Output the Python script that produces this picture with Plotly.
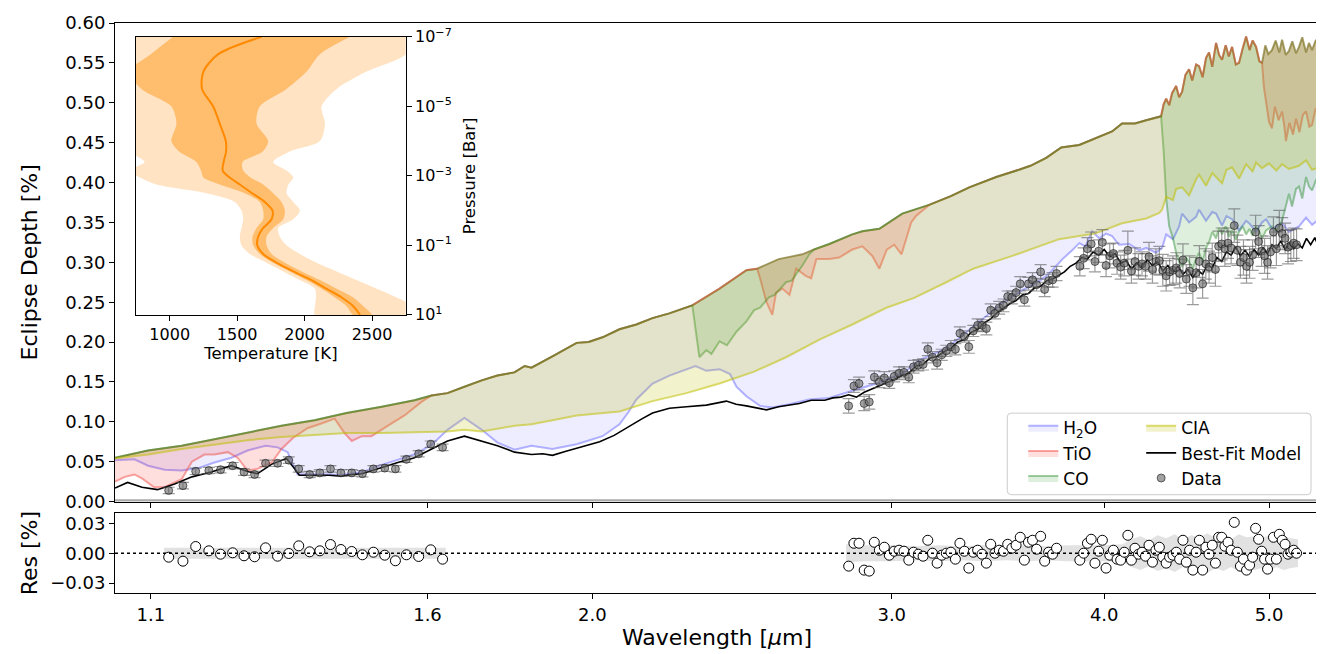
import plotly.graph_objects as go

# ---------------- model spectra (wavelength [um], eclipse depth [%]) ----------------
upper_wl = [1.048, 1.096, 1.147, 1.199, 1.254, 1.313, 1.373, 1.434, 1.504, 1.572, 1.609, 1.644, 1.682,
            1.722, 1.759, 1.800, 1.825, 1.842, 1.895, 1.958, 1.990, 2.028, 2.075, 2.123, 2.170, 2.220,
            2.290, 2.376, 2.464, 2.500, 2.574, 2.658, 2.700, 2.757, 2.844, 2.883, 2.950, 3.043, 3.156,
            3.250, 3.332, 3.456, 3.565, 3.620, 3.698, 3.774, 3.867, 3.950, 4.043, 4.098, 4.170, 4.234,
            4.320, 4.335, 4.350, 4.368, 4.385, 4.409, 4.427, 4.445, 4.465, 4.487, 4.506, 4.530, 4.548,
            4.570, 4.591, 4.610, 4.630, 4.654, 4.673, 4.692, 4.715, 4.735, 4.756, 4.780, 4.801, 4.825,
            4.847, 4.870, 4.890, 4.913, 4.935, 4.953, 4.975, 4.995, 5.020, 5.045, 5.070, 5.089, 5.115,
            5.137, 5.160, 5.186, 5.207, 5.230, 5.257, 5.278, 5.300, 5.328, 5.350]
upper_val = [0.055, 0.064, 0.070, 0.078, 0.086, 0.095, 0.102, 0.111, 0.119, 0.127, 0.133, 0.136, 0.144,
             0.152, 0.158, 0.162, 0.170, 0.168, 0.182, 0.199, 0.200, 0.206, 0.216, 0.222, 0.230, 0.236,
             0.246, 0.267, 0.290, 0.292, 0.304, 0.310, 0.316, 0.323, 0.335, 0.339, 0.342, 0.361, 0.372,
             0.383, 0.394, 0.407, 0.416, 0.421, 0.431, 0.444, 0.447, 0.455, 0.464, 0.474, 0.474, 0.478,
             0.483, 0.498, 0.505, 0.497, 0.512, 0.521, 0.507, 0.514, 0.535, 0.542, 0.528, 0.548, 0.546,
             0.532, 0.556, 0.563, 0.545, 0.575, 0.560, 0.554, 0.572, 0.558, 0.570, 0.548, 0.550, 0.568,
             0.583, 0.566, 0.578, 0.570, 0.552, 0.550, 0.572, 0.561, 0.566, 0.578, 0.563, 0.579, 0.560,
             0.565, 0.577, 0.562, 0.570, 0.582, 0.563, 0.575, 0.566, 0.579, 0.570]

h2o_wl = [1.048, 1.076, 1.096, 1.121, 1.147, 1.173, 1.199, 1.227, 1.254, 1.285, 1.306, 1.324, 1.331,
          1.342, 1.373, 1.400, 1.424, 1.464, 1.504, 1.537, 1.572, 1.609, 1.644, 1.682, 1.722, 1.759,
          1.800, 1.842, 1.895, 1.958, 2.028, 2.075, 2.100, 2.123, 2.170, 2.220, 2.272, 2.300, 2.334,
          2.376, 2.410, 2.431, 2.464, 2.510, 2.552, 2.612, 2.683, 2.757, 2.844, 2.950, 3.043, 3.120,
          3.230, 3.310, 3.400, 3.490, 3.580, 3.650, 3.710, 3.780, 3.830, 3.867, 3.900, 3.935, 3.973,
          4.010, 4.043, 4.080, 4.137, 4.194, 4.234, 4.290, 4.326, 4.350, 4.390, 4.427, 4.445, 4.487,
          4.530, 4.548, 4.591, 4.630, 4.654, 4.692, 4.720, 4.756, 4.801, 4.847, 4.867, 4.913, 4.953,
          4.980, 5.020, 5.089, 5.137, 5.207, 5.257, 5.300, 5.350]
h2o_val = [0.052, 0.053, 0.045, 0.040, 0.039, 0.042, 0.049, 0.055, 0.064, 0.070, 0.068, 0.062, 0.050,
           0.034, 0.034, 0.034, 0.033, 0.037, 0.046, 0.052, 0.059, 0.071, 0.090, 0.105, 0.090, 0.074,
           0.065, 0.070, 0.066, 0.072, 0.082, 0.097, 0.112, 0.128, 0.148, 0.158, 0.166, 0.170, 0.164,
           0.166, 0.160, 0.144, 0.132, 0.120, 0.118, 0.122, 0.128, 0.130, 0.139, 0.149, 0.160, 0.178,
           0.192, 0.210, 0.230, 0.250, 0.265, 0.274, 0.285, 0.304, 0.315, 0.324, 0.320, 0.339, 0.330,
           0.336, 0.333, 0.322, 0.323, 0.315, 0.318, 0.312, 0.318, 0.335, 0.329, 0.345, 0.361, 0.350,
           0.357, 0.366, 0.352, 0.363, 0.361, 0.346, 0.358, 0.354, 0.340, 0.352, 0.349, 0.338, 0.350,
           0.354, 0.342, 0.349, 0.338, 0.345, 0.356, 0.347, 0.354]

cia_wl = [1.048, 1.096, 1.147, 1.199, 1.254, 1.313, 1.373, 1.434, 1.504, 1.572, 1.644, 1.682, 1.722,
          1.800, 1.842, 1.895, 1.958, 2.075, 2.170, 2.272, 2.376, 2.490, 2.600, 2.720, 2.844, 2.978,
          3.090, 3.230, 3.350, 3.532, 3.763, 3.950, 4.098, 4.234, 4.310, 4.326, 4.350, 4.390, 4.409,
          4.445, 4.487, 4.530, 4.548, 4.591, 4.630, 4.654, 4.692, 4.720, 4.756, 4.801, 4.847, 4.890,
          4.913, 4.953, 5.000, 5.050, 5.089, 5.137, 5.207, 5.257, 5.300, 5.350]
cia_val = [0.054, 0.059, 0.066, 0.071, 0.077, 0.081, 0.084, 0.086, 0.086, 0.087, 0.088, 0.090, 0.088,
           0.095, 0.097, 0.102, 0.108, 0.113, 0.126, 0.136, 0.148, 0.163, 0.181, 0.203, 0.222, 0.243,
           0.255, 0.275, 0.292, 0.308, 0.329, 0.336, 0.349, 0.355, 0.362, 0.366, 0.382, 0.378, 0.392,
           0.394, 0.384, 0.404, 0.410, 0.396, 0.412, 0.407, 0.399, 0.416, 0.419, 0.405, 0.423, 0.414,
           0.425, 0.418, 0.424, 0.415, 0.423, 0.417, 0.421, 0.428, 0.416, 0.419]

# TiO and CO follow the upper envelope except in these segments
tio_seg1_wl = [1.048, 1.062, 1.076, 1.087, 1.105, 1.121, 1.147, 1.163, 1.183, 1.199, 1.221, 1.237, 1.254,
               1.271, 1.296, 1.313, 1.334, 1.360, 1.386, 1.411, 1.430, 1.444, 1.464, 1.483, 1.516, 1.551,
               1.587]
tio_seg1_val = [0.025, 0.031, 0.034, 0.029, 0.018, 0.018, 0.028, 0.050, 0.059, 0.059, 0.062, 0.055, 0.039,
                0.041, 0.049, 0.066, 0.080, 0.092, 0.098, 0.104, 0.086, 0.076, 0.082, 0.082, 0.095, 0.108,
                0.125]
tio_seg2_wl = [2.510, 2.532, 2.552, 2.565, 2.587, 2.612, 2.636, 2.670, 2.690, 2.709, 2.757, 2.794, 2.844,
               2.883, 2.922, 2.950, 2.980, 3.010, 3.040, 3.060, 3.080, 3.100]
tio_seg2_val = [0.280, 0.250, 0.234, 0.262, 0.267, 0.259, 0.292, 0.283, 0.280, 0.304, 0.304, 0.306, 0.316,
                0.320, 0.308, 0.292, 0.316, 0.322, 0.310, 0.330, 0.350, 0.358]
tio_seg3_wl = [4.965, 4.980, 5.000, 5.020, 5.040, 5.065, 5.089, 5.105, 5.116, 5.140, 5.165, 5.186, 5.210,
               5.235, 5.257, 5.280, 5.300, 5.325, 5.350]
tio_seg3_val = [0.520, 0.501, 0.476, 0.468, 0.495, 0.478, 0.489, 0.470, 0.452, 0.475, 0.460, 0.480, 0.463,
                0.485, 0.489, 0.470, 0.472, 0.492, 0.493]

co_seg1_wl = [2.312, 2.334, 2.350, 2.376, 2.400, 2.431, 2.450, 2.464, 2.490, 2.510, 2.540, 2.560, 2.600,
              2.620, 2.658, 2.683]
co_seg1_val = [0.181, 0.190, 0.185, 0.201, 0.196, 0.213, 0.220, 0.226, 0.240, 0.243, 0.256, 0.259, 0.275,
               0.277, 0.296, 0.310]
co_seg2_wl = [4.335, 4.350, 4.368, 4.390, 4.409, 4.427, 4.445, 4.470, 4.487, 4.510, 4.530, 4.548, 4.570,
              4.591, 4.610, 4.630, 4.654, 4.673, 4.692, 4.715, 4.735, 4.756, 4.780, 4.801, 4.825, 4.847,
              4.870, 4.890, 4.913, 4.935, 4.953, 4.980, 5.020, 5.050, 5.089, 5.115, 5.137, 5.158, 5.186,
              5.207, 5.230, 5.257, 5.278, 5.300, 5.328, 5.350]
co_seg2_val = [0.440, 0.380, 0.345, 0.330, 0.312, 0.300, 0.295, 0.305, 0.300, 0.292, 0.305, 0.312, 0.300,
               0.318, 0.325, 0.338, 0.330, 0.343, 0.335, 0.345, 0.332, 0.340, 0.328, 0.338, 0.345, 0.335,
               0.342, 0.333, 0.345, 0.338, 0.330, 0.340, 0.345, 0.338, 0.352, 0.372, 0.386, 0.370, 0.392,
               0.395, 0.380, 0.407, 0.395, 0.390, 0.403, 0.410]

bestfit_wl = [1.048, 1.066, 1.087, 1.110, 1.136, 1.163, 1.194, 1.227, 1.253, 1.271, 1.296, 1.322, 1.338,
              1.345, 1.373, 1.400, 1.424, 1.444, 1.464, 1.504, 1.537, 1.572, 1.609, 1.644, 1.682, 1.722,
              1.759, 1.800, 1.842, 1.870, 1.895, 1.930, 1.970, 2.020, 2.060, 2.100, 2.140, 2.170, 2.220,
              2.272, 2.334, 2.398, 2.430, 2.464, 2.500, 2.532, 2.574, 2.610, 2.647, 2.690, 2.740, 2.770,
              2.80, 2.83, 2.86, 2.89, 2.92, 2.95, 2.98, 3.01, 3.04, 3.07, 3.10, 3.13, 3.16, 3.19, 3.22,
              3.25, 3.28, 3.31, 3.34, 3.37, 3.40, 3.43, 3.46, 3.49, 3.52, 3.55, 3.58, 3.61, 3.64, 3.67,
              3.70, 3.73, 3.76, 3.79, 3.82, 3.85, 3.88, 3.91, 3.94, 3.97, 4.00, 4.03, 4.06, 4.09, 4.12,
              4.15, 4.18, 4.21, 4.24, 4.27, 4.30, 4.33, 4.36, 4.39, 4.42, 4.45, 4.48, 4.51, 4.54, 4.57,
              4.60, 4.63, 4.66, 4.69, 4.72, 4.75, 4.78, 4.81, 4.84, 4.87, 4.90, 4.93, 4.96, 4.99, 5.02,
              5.05, 5.08, 5.11, 5.14, 5.17, 5.20, 5.23, 5.26, 5.29, 5.32, 5.35]
bestfit_val = [0.017, 0.024, 0.018, 0.015, 0.022, 0.031, 0.037, 0.045, 0.038, 0.035, 0.047, 0.054, 0.040,
               0.033, 0.033, 0.033, 0.032, 0.034, 0.035, 0.043, 0.049, 0.055, 0.066, 0.076, 0.082, 0.076,
               0.070, 0.062, 0.059, 0.060, 0.058, 0.063, 0.068, 0.075, 0.083, 0.094, 0.104, 0.111, 0.117,
               0.119, 0.121, 0.126, 0.122, 0.120, 0.117, 0.115, 0.119, 0.121, 0.123, 0.127, 0.127, 0.130,
               0.131, 0.134, 0.131, 0.137, 0.141, 0.145, 0.149, 0.153, 0.158, 0.161, 0.170, 0.172, 0.180,
               0.182, 0.188, 0.192, 0.200, 0.203, 0.212, 0.216, 0.224, 0.229, 0.237, 0.243, 0.248, 0.252,
               0.259, 0.261, 0.268, 0.270, 0.277, 0.279, 0.284, 0.288, 0.295, 0.299, 0.306, 0.304, 0.313,
               0.309, 0.316, 0.307, 0.311, 0.299, 0.302, 0.292, 0.299, 0.294, 0.303, 0.296, 0.301, 0.289,
               0.296, 0.287, 0.295, 0.285, 0.291, 0.281, 0.290, 0.285, 0.297, 0.293, 0.306, 0.301, 0.313,
               0.309, 0.319, 0.308, 0.315, 0.307, 0.316, 0.309, 0.318, 0.311, 0.322, 0.317, 0.327, 0.316,
               0.324, 0.317, 0.323, 0.318, 0.330, 0.322, 0.331, 0.318]

baseline_wl = [1.048, 5.350]
baseline_val = [0.0015, 0.0015]

# ---------------- observations ----------------
g141_wl = [1.127, 1.149, 1.169, 1.190, 1.209, 1.229, 1.248, 1.266, 1.285, 1.306, 1.326, 1.344, 1.364,
           1.383, 1.403, 1.423, 1.444, 1.465, 1.487, 1.510, 1.532, 1.555, 1.581, 1.607, 1.633]
g141_depth = [0.014, 0.020, 0.038, 0.039, 0.040, 0.045, 0.037, 0.034, 0.048, 0.048, 0.052, 0.041, 0.034,
              0.036, 0.041, 0.036, 0.036, 0.035, 0.041, 0.042, 0.041, 0.053, 0.060, 0.072, 0.068]
g141_err = [0.004, 0.004, 0.004, 0.004, 0.004, 0.004, 0.004, 0.004, 0.004, 0.004, 0.004, 0.004, 0.004,
            0.004, 0.004, 0.004, 0.004, 0.004, 0.004, 0.004, 0.004, 0.004, 0.004, 0.004, 0.004]
g141_res = [-0.004, -0.008, 0.0067, 0.0024, -0.001, 0.0004, -0.0026, -0.0036, 0.0054, -0.003, -0.0003,
            0.0074, 0.0014, 0.0024, 0.0087, 0.0037, 0.0017, -0.0016, 0.001, -0.002, -0.0076, -0.0016,
            -0.0033, 0.0034, -0.006]

nrs_wl = [2.83, 2.85, 2.87, 2.89, 2.91, 2.93, 2.95, 2.97, 2.99, 3.01, 3.03, 3.05, 3.07, 3.09, 3.11, 3.13,
          3.15, 3.17, 3.19, 3.21, 3.23, 3.25, 3.27, 3.29, 3.31, 3.33, 3.35, 3.37, 3.39, 3.41, 3.43, 3.45,
          3.47, 3.49, 3.51, 3.53, 3.55, 3.57, 3.59, 3.61, 3.63, 3.65, 3.67, 3.69, 3.71, 3.73, 3.75,
          3.87, 3.89, 3.91, 3.93, 3.95, 3.97, 3.99, 4.01, 4.03, 4.05, 4.07, 4.09, 4.11, 4.13, 4.15, 4.17,
          4.19, 4.21, 4.23, 4.25, 4.27, 4.29, 4.31, 4.33, 4.35, 4.37, 4.39, 4.41, 4.43, 4.45, 4.47, 4.49,
          4.51, 4.53, 4.55, 4.57, 4.59, 4.61, 4.63, 4.65, 4.67, 4.69, 4.71, 4.73, 4.75, 4.77, 4.79, 4.81,
          4.83, 4.85, 4.87, 4.89, 4.91, 4.93, 4.95, 4.97, 4.99, 5.01, 5.03, 5.05, 5.07, 5.09, 5.11, 5.13,
          5.15, 5.17, 5.19]
nrs_depth = [0.120, 0.145, 0.148, 0.123, 0.125, 0.156, 0.150, 0.155, 0.149, 0.157,
             0.161, 0.162, 0.156, 0.169, 0.171, 0.172, 0.191, 0.181, 0.174, 0.184,
             0.189, 0.194, 0.191, 0.211, 0.207, 0.194, 0.214, 0.221, 0.221, 0.217,
             0.240, 0.236, 0.243, 0.246, 0.257, 0.256, 0.262, 0.273, 0.253, 0.273,
             0.278, 0.272, 0.288, 0.266, 0.277, 0.278, 0.286,
             0.295, 0.305, 0.317, 0.323, 0.301, 0.314, 0.325, 0.296, 0.308, 0.311,
             0.299, 0.294, 0.299, 0.315, 0.289, 0.301, 0.295, 0.298, 0.295, 0.307,
             0.291, 0.301, 0.302, 0.290, 0.283, 0.288, 0.290, 0.293, 0.286, 0.303,
             0.279, 0.289, 0.268, 0.287, 0.301, 0.273, 0.298, 0.294, 0.306, 0.291,
             0.320, 0.323, 0.317, 0.324, 0.318, 0.346, 0.315, 0.300, 0.306, 0.295,
             0.300, 0.309, 0.338, 0.326, 0.314, 0.308, 0.300, 0.313, 0.338, 0.317,
             0.343, 0.336, 0.330, 0.319, 0.321, 0.324, 0.322]
nrs_err = [0.009, 0.008, 0.008, 0.009, 0.009, 0.008, 0.007, 0.008, 0.007, 0.007,
           0.008, 0.007, 0.007, 0.008, 0.007, 0.007, 0.008, 0.007, 0.008, 0.007,
           0.007, 0.008, 0.007, 0.008, 0.007, 0.008, 0.007, 0.008, 0.007, 0.008,
           0.008, 0.007, 0.008, 0.008, 0.007, 0.008, 0.008, 0.009, 0.008, 0.008,
           0.009, 0.008, 0.009, 0.009, 0.008, 0.009, 0.009,
           0.012, 0.013, 0.014, 0.015, 0.013, 0.014, 0.016, 0.014, 0.015, 0.013,
           0.014, 0.015, 0.016, 0.024, 0.015, 0.017, 0.016, 0.015, 0.016, 0.018,
           0.017, 0.016, 0.018, 0.020, 0.019, 0.017, 0.018, 0.019, 0.018, 0.020,
           0.018, 0.019, 0.021, 0.019, 0.020, 0.018, 0.019, 0.020, 0.018, 0.021,
           0.019, 0.020, 0.022, 0.019, 0.020, 0.021, 0.019, 0.020, 0.022, 0.021,
           0.020, 0.019, 0.021, 0.020, 0.019, 0.022, 0.021, 0.020, 0.019, 0.021,
           0.022, 0.020, 0.019, 0.021, 0.020, 0.019, 0.020]
nrs_res = [-0.013, 0.010, 0.010, -0.017, -0.018, 0.011, 0.003, 0.006, -0.002, 0.002,
           0.003, 0.002, -0.007, 0.001, -0.001, -0.003, 0.013, 0.000, -0.010, -0.002,
           0.000, 0.001, -0.006, 0.010, 0.002, -0.015, 0.001, 0.003, -0.001, -0.010,
           0.009, 0.000, 0.003, 0.002, 0.009, 0.005, 0.008, 0.016, -0.007, 0.011,
           0.013, 0.004, 0.017, -0.008, 0.001, -0.001, 0.005,
           -0.007, 0.000, 0.010, 0.014, -0.010, 0.002, 0.013, -0.015, -0.002, 0.003,
           -0.006, -0.007, 0.001, 0.018, -0.007, 0.005, -0.001, 0.001, -0.003, 0.008,
           -0.009, 0.003, 0.006, -0.004, -0.010, -0.004, -0.002, 0.001, -0.006, 0.013,
           -0.009, 0.003, -0.017, 0.001, 0.013, -0.017, 0.006, -0.001, 0.008, -0.010,
           0.016, 0.016, 0.007, 0.011, 0.003, 0.031, 0.001, -0.013, -0.006, -0.017,
           -0.012, -0.004, 0.025, 0.014, 0.002, -0.006, -0.016, -0.006, 0.016, -0.006,
           0.019, 0.013, 0.009, -0.001, 0.001, 0.003, 0.000]

band_g141_wl = [1.120, 1.250, 1.400, 1.640]
band_g141_hw = [0.0055, 0.0055, 0.0055, 0.0055]
band_nrs_wl = [2.82, 2.90, 3.00, 3.10, 3.20, 3.30, 3.40, 3.50, 3.60, 3.70, 3.80, 3.90, 4.00, 4.10, 4.15,
               4.20, 4.25, 4.30, 4.35, 4.40, 4.45, 4.50, 4.55, 4.60, 4.65, 4.70, 4.75, 4.80, 4.85, 4.90,
               4.95, 5.00, 5.05, 5.10, 5.15, 5.20]
band_nrs_hw = [0.009, 0.008, 0.008, 0.007, 0.008, 0.007, 0.008, 0.007, 0.008, 0.007, 0.008, 0.008, 0.008,
               0.009, 0.014, 0.017, 0.013, 0.018, 0.015, 0.019, 0.014, 0.018, 0.016, 0.020, 0.015, 0.018,
               0.014, 0.019, 0.016, 0.017, 0.015, 0.018, 0.014, 0.017, 0.015, 0.014]

# ---------------- temperature-pressure profile ----------------
tp_logp = [-7, -6.5, -6, -5.5, -5, -4.5, -4, -3.7, -3.4, -3.15, -2.95, -2.75, -2.5, -2.25, -2, -1.75,
           -1.5, -1.25, -1, -0.75, -0.5, -0.25, 0, 0.25, 0.5, 0.75, 1]
tp_median = [1681, 1360, 1250, 1240, 1322, 1371, 1416, 1418, 1400, 1393, 1445, 1520, 1611, 1705, 1762,
             1755, 1693, 1656, 1649, 1693, 1792, 1916, 2052, 2163, 2275, 2361, 2411]
tp_1s_lo = [1025, 860, 700, 790, 1012, 1050, 1012, 1070, 1198, 1232, 1250, 1371, 1557, 1668, 1693, 1693,
            1644, 1614, 1619, 1668, 1767, 1891, 2015, 2126, 2225, 2312, 2361]
tp_1s_hi = [2337, 2114, 2015, 1866, 1668, 1644, 1730, 1690, 1540, 1545, 1600, 1693, 1767, 1829, 1854,
            1842, 1767, 1718, 1718, 1755, 1854, 1978, 2114, 2238, 2361, 2436, 2498]
tp_2s_lo = [700, 700, 700, 700, 700, 700, 700, 700, 814, 700, 780, 901, 1272, 1483, 1532, 1545, 1532,
            1520, 1532, 1594, 1718, 1842, 1965, 2077, 2084, 2077, 2077]
tp_2s_hi = [2800, 2750, 2460, 2238, 2126, 2151, 2114, 1891, 1767, 1866, 1916, 1880, 1866, 1916, 1965,
            1916, 1804, 1817, 1866, 1965, 2089, 2238, 2386, 2535, 2683, 2800, 2800]


def splice(base_wl, base_val, segments):
    pts = []
    for w, v in zip(base_wl, base_val):
        if not any(min(sw) <= w <= max(sw) for sw, _ in segments):
            pts.append((w, v))
    for sw, sv in segments:
        pts.extend(zip(sw, sv))
    pts.sort()
    return [p[0] for p in pts], [p[1] for p in pts]


tio_wl, tio_val = splice(upper_wl, upper_val, [(tio_seg1_wl, tio_seg1_val), (tio_seg2_wl, tio_seg2_val),
                                               (tio_seg3_wl, tio_seg3_val)])
co_wl, co_val = splice(upper_wl, upper_val, [(co_seg1_wl, co_seg1_val), (co_seg2_wl, co_seg2_val)])

FONT = "DejaVu Sans"
fig = go.Figure()

# upper envelope line
fig.add_trace(go.Scatter(x=upper_wl, y=upper_val, mode="lines", xaxis="x", yaxis="y",
                         line=dict(color="rgba(135,128,60,0.75)", width=2), showlegend=False, hoverinfo="skip"))

species = [
    ("H<sub>2</sub>O", h2o_wl, h2o_val, "rgba(60,60,255,0.38)", "rgba(0,0,255,0.07)", "legend"),
    ("TiO", tio_wl, tio_val, "rgba(240,60,50,0.45)", "rgba(255,0,0,0.13)", "legend"),
    ("CO", co_wl, co_val, "rgba(20,130,20,0.40)", "rgba(0,128,0,0.13)", "legend"),
    ("CIA", cia_wl, cia_val, "rgba(191,191,0,0.55)", "rgba(191,191,0,0.20)", "legend2"),
]
for name, wl, val, lc, fc, lg in species:
    fig.add_trace(go.Scatter(x=upper_wl, y=upper_val, mode="lines", xaxis="x", yaxis="y",
                             line=dict(width=0, color="rgba(0,0,0,0)"), showlegend=False, hoverinfo="skip"))
    fig.add_trace(go.Scatter(x=wl, y=val, mode="lines", xaxis="x", yaxis="y", fill="tonexty",
                             fillcolor=fc, line=dict(color=lc, width=2), name=name, legend=lg))

fig.add_trace(go.Scatter(x=baseline_wl, y=baseline_val, mode="lines", xaxis="x", yaxis="y",
                         line=dict(color="rgba(150,150,150,0.8)", width=2.5), showlegend=False, hoverinfo="skip"))

fig.add_trace(go.Scatter(x=bestfit_wl, y=bestfit_val, mode="lines", xaxis="x", yaxis="y",
                         line=dict(color="black", width=1.6), name="Best-Fit Model", legend="legend2"))

data_marker = dict(size=8, color="rgba(100,100,100,0.6)", line=dict(color="rgba(20,20,20,0.6)", width=1))
err_style = dict(type="data", color="rgba(90,90,90,0.6)", thickness=1.2, width=6)
fig.add_trace(go.Scatter(x=g141_wl, y=g141_depth, mode="markers", xaxis="x", yaxis="y",
                         marker=data_marker, error_y=dict(array=g141_err, **err_style),
                         name="Data", legend="legend2"))
fig.add_trace(go.Scatter(x=nrs_wl, y=nrs_depth, mode="markers", xaxis="x", yaxis="y",
                         marker=data_marker, error_y=dict(array=nrs_err, **err_style),
                         name="Data", showlegend=False))

# residual panel
for bwl, bhw in [(band_g141_wl, band_g141_hw), (band_nrs_wl, band_nrs_hw)]:
    fig.add_trace(go.Scatter(x=bwl + bwl[::-1], y=[h for h in bhw] + [-h for h in bhw[::-1]],
                             mode="lines", fill="toself", fillcolor="rgba(190,190,190,0.45)",
                             line=dict(width=0), xaxis="x2", yaxis="y2", showlegend=False, hoverinfo="skip"))
res_marker = dict(size=10, color="white", line=dict(color="black", width=1))
fig.add_trace(go.Scatter(x=g141_wl, y=g141_res, mode="markers", marker=res_marker,
                         xaxis="x2", yaxis="y2", showlegend=False))
fig.add_trace(go.Scatter(x=nrs_wl, y=nrs_res, mode="markers", marker=res_marker,
                         xaxis="x2", yaxis="y2", showlegend=False))

# inset: T-P profile
tp_p = [10 ** lp for lp in tp_logp]
fig.add_trace(go.Scatter(x=tp_2s_lo + tp_2s_hi[::-1], y=tp_p + tp_p[::-1], mode="lines", fill="toself",
                         fillcolor="rgba(255,140,0,0.24)", line=dict(width=0, shape="spline", smoothing=0.8),
                         xaxis="x3", yaxis="y3", showlegend=False, hoverinfo="skip"))
fig.add_trace(go.Scatter(x=tp_1s_lo + tp_1s_hi[::-1], y=tp_p + tp_p[::-1], mode="lines", fill="toself",
                         fillcolor="rgba(255,140,0,0.43)", line=dict(width=0, shape="spline", smoothing=0.8),
                         xaxis="x3", yaxis="y3", showlegend=False, hoverinfo="skip"))
fig.add_trace(go.Scatter(x=tp_median, y=tp_p, mode="lines",
                         line=dict(color="#ff8a00", width=2, shape="spline", smoothing=0.8),
                         xaxis="x3", yaxis="y3", showlegend=False))

axis_common = dict(showline=True, linecolor="black", linewidth=1, mirror=True, ticks="outside", ticklen=5,
                   tickwidth=1, tickcolor="black", showgrid=False, zeroline=False,
                   tickfont=dict(size=18, color="black", family=FONT))
wl_ticks = [1.1, 1.6, 2.0, 3.0, 4.0, 5.0]
wl_range = [0.020361, 0.728354]

# the page body has an 8 px margin, so the figure is 8 px smaller and the margins compensate
fig.update_layout(
    width=1316, height=646,
    margin=dict(l=107, r=4, t=5, b=61),
    paper_bgcolor="white", plot_bgcolor="white",
    font=dict(family=FONT, color="black"),
    xaxis=dict(axis_common, type="log", range=wl_range, domain=[0, 1], anchor="y",
               tickvals=wl_ticks, showticklabels=False),
    yaxis=dict(axis_common, range=[0, 0.6], domain=[0.16034, 1], anchor="x", dtick=0.05, tick0=0,
               tickformat=".2f", title=dict(text="Eclipse Depth [%]", font=dict(size=22), standoff=21)),
    xaxis2=dict(axis_common, type="log", range=wl_range, domain=[0, 1], anchor="y2",
                tickvals=wl_ticks, ticktext=["1.1", "1.6", "2.0", "3.0", "4.0", "5.0"],
                title=dict(text="Wavelength [<i>μ</i>m]", font=dict(size=22), standoff=6)),
    yaxis2=dict(axis_common, range=[-0.04, 0.04], domain=[0, 0.13966], anchor="x2",
                tickvals=[-0.03, 0, 0.03], ticktext=["\u22120.03", "0.00", "0.03"],
                title=dict(text="Res [%]", font=dict(size=22), standoff=6)),
    xaxis3=dict(axis_common, range=[750, 2750], domain=[0.017427, 0.24149], anchor="y3",
                tickvals=[1000, 1500, 2000, 2500], tickfont=dict(size=16, color="black", family=FONT),
                title=dict(text="Temperature [K]", font=dict(size=16.5), standoff=4)),
    yaxis3=dict(axis_common, type="log", range=[1, -7], domain=[0.48793, 0.97586], anchor="x3",
                side="right", tickvals=[1e-7, 1e-5, 1e-3, 1e-1, 10],
                ticktext=["10<sup>\u22127</sup>", "10<sup>\u22125</sup>", "10<sup>\u22123</sup>",
                          "10<sup>\u22121</sup>", "10<sup>1</sup>"],
                tickfont=dict(size=16, color="black", family=FONT),
                title=dict(text="Pressure [Bar]", font=dict(size=16.5), standoff=12)),
    legend=dict(x=0.7544, y=0.3206, xanchor="left", yanchor="top", bgcolor="rgba(0,0,0,0)",
                font=dict(size=17, family=FONT), tracegroupgap=0, traceorder="normal"),
    legend2=dict(x=0.8523, y=0.3206, xanchor="left", yanchor="top", bgcolor="rgba(0,0,0,0)",
                 font=dict(size=17, family=FONT), tracegroupgap=0, traceorder="normal"),
)

# legend frame (rounded) and dotted zero line for residuals
x0, x1, y0, y1 = 0.7411, 0.99336, 0.17241, 0.31552
rx, ry = 4 / 1205, 4 / 580
path = (f"M {x0+rx},{y0} L {x1-rx},{y0} Q {x1},{y0} {x1},{y0+ry} L {x1},{y1-ry} Q {x1},{y1} {x1-rx},{y1} "
        f"L {x0+rx},{y1} Q {x0},{y1} {x0},{y1-ry} L {x0},{y0+ry} Q {x0},{y0} {x0+rx},{y0} Z")
fig.add_shape(type="path", path=path, xref="paper", yref="paper", fillcolor="rgba(255,255,255,0.8)",
              line=dict(color="#cccccc", width=1), layer="above")
fig.add_shape(type="line", xref="x2 domain", yref="y2", x0=0, x1=1, y0=0, y1=0,
              line=dict(color="black", width=1.5, dash="dot"))

fig.write_html("out.html")
